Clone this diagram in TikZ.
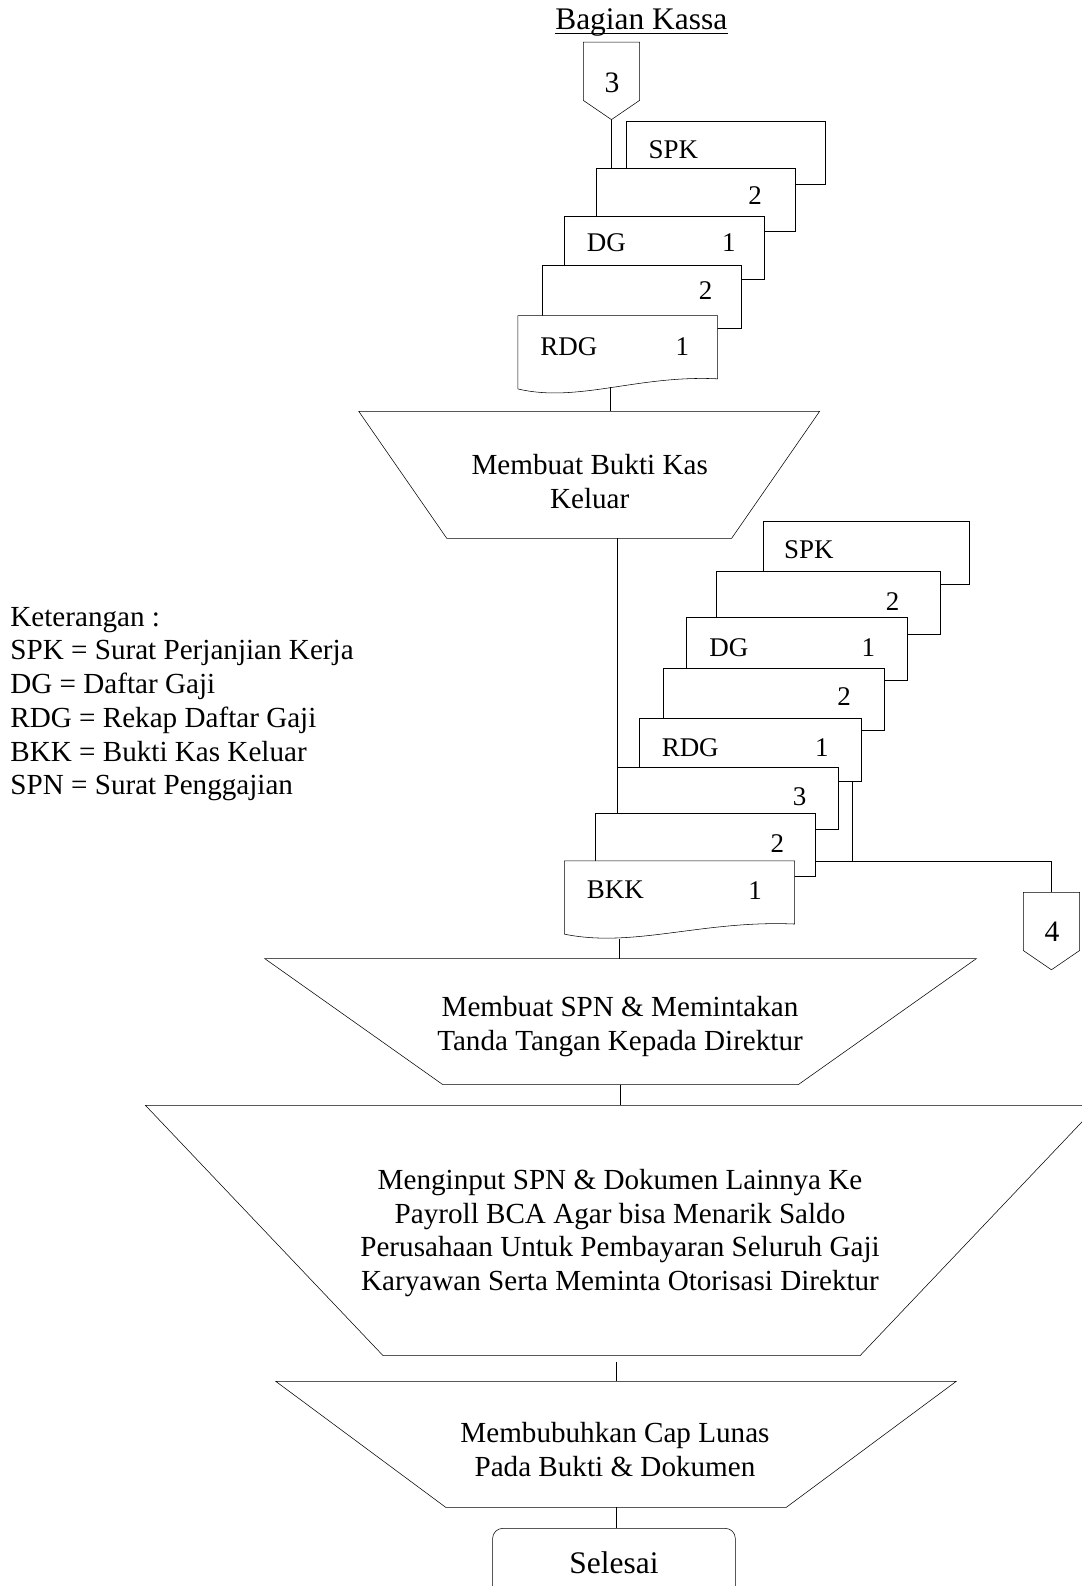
\documentclass[tikz,border=0pt]{standalone}
\usepackage{fontspec}
\setmainfont{Liberation Serif}
\usetikzlibrary{calc}

\tikzset{
  teks/.style={font=\fontsize{21.6}{25}\selectfont, align=center, inner sep=0pt},
  lbl/.style={font=\fontsize{20}{24}\selectfont, inner sep=0pt},
  dok/.style={draw, fill=white, anchor=north west, minimum width=#1*0.75pt, minimum height=46.5pt, inner sep=0pt},
  dokw/.style={anchor=north west, minimum width=#1*0.75pt, minimum height=46.5pt, inner sep=0pt},
  proses/.style args={#1/#2}{minimum width=#1*0.75pt, minimum height=#2*0.75pt, inner sep=0pt},
  offp/.style={minimum width=41.25pt, minimum height=42.75pt, inner sep=0pt}
}
% trapesium proses manual
\newcommand\trapes[2]{\draw (#1.north west) -- (#1.north east) -- ([shift={(-#2,0)}]#1.south east) -- ([shift={(#2,0)}]#1.south west) -- cycle;}
% penghubung halaman
\newcommand\offpage[1]{\draw (#1.north west) -- (#1.north east) -- (#1.south east) -- ([shift={(0,19)}]#1.south) -- (#1.south west) -- cycle;}
% dokumen dengan bawah bergelombang
\newcommand\gelombang[1]{\draw[fill=white] (#1.north west) -- (#1.north east) -- (#1.south east) .. controls ($(#1.south west)!0.6!(#1.south east)+(0,-4)$) and ($(#1.south west)!0.3!(#1.south east)+(0,24)$) .. ([shift={(0,10)}]#1.south west) -- cycle;}

\begin{document}
\begin{tikzpicture}[x=0.75pt,y=-0.75pt]
	\useasboundingbox (0,0) rectangle (1069,1568);

	% Judul
	\node[teks, font=\fontsize{23.3}{28}\selectfont, anchor=base] (judul) at (634,29) {Bagian Kassa};
	\draw ([shift={(0,4)}]judul.base west) -- ([shift={(0,4)}]judul.base east);

	% Penghubung 3
	\node[offp] (c3) at (604.5,70.5) {};
	\offpage{c3}
	\node[lbl, font=\fontsize{22}{26}\selectfont] (n3) at (605,82) {3};
	\coordinate (c3tip) at ([shift={(0,19)}]c3.south);

	% Tumpukan dokumen pertama
	\node[dok=197] (spk1) at (619,120) {};
	\node[lbl, anchor=west] (tspk1) at ([shift={(22,28)}]spk1.north west) {SPK};
	\node[dok=197] (dua1) at (589,166) {};
	\node[lbl] (tdua1) at ([shift={(-40,27)}]dua1.north east) {2};
	\node[dok=197] (dg1) at (558,214) {};
	\node[lbl, anchor=west] (tdg1) at ([shift={(22,26)}]dg1.north west) {DG};
	\node[lbl] (sdg1) at ([shift={(-35,26)}]dg1.north east) {1};
	\node[dok=197] (dua2) at (536,262) {};
	\node[lbl] (tdua2) at ([shift={(-36,25)}]dua2.north east) {2};
	\node[dokw=197] (rdg1) at (512,312) {};
	\gelombang{rdg1}
	\node[lbl, anchor=west] (trdg1) at ([shift={(22,31)}]rdg1.north west) {RDG};
	\node[lbl] (srdg1) at ([shift={(-35,31)}]rdg1.north east) {1};

	\draw (c3tip) -- (c3tip |- dua1.north);

	% Proses 1
	\node[proses=455/125] (p1) at (582.5,469.5) {};
	\trapes{p1}{87}
	\node[teks] (t1) at (583,476) {Membuat Bukti Kas\\Keluar};
	\coordinate (w1) at ([shift={(91,71)}]rdg1.north west);
	\draw (w1) -- (w1 |- p1.north);

	% Keterangan
	\node[teks, align=left, anchor=north west] (ket) at (10,600) {Keterangan :\\SPK = Surat Perjanjian Kerja\\DG = Daftar Gaji\\RDG = Rekap Daftar Gaji\\BKK = Bukti Kas Keluar\\SPN = Surat Penggajian};

	% Tumpukan dokumen kedua
	\node[dok=204] (b1) at (754,515) {};
	\node[lbl, anchor=west] (tb1) at ([shift={(21,28)}]b1.north west) {SPK};
	\node[dok=221] (b2) at (708,565) {};
	\node[lbl] (tb2) at ([shift={(-47,30)}]b2.north east) {2};
	\node[dok=219] (b3) at (678,610) {};
	\node[lbl, anchor=west] (tb3) at ([shift={(23,30)}]b3.north west) {DG};
	\node[lbl] (sb3) at ([shift={(-39,30)}]b3.north east) {1};
	\node[dok=219] (b4) at (655,660) {};
	\node[lbl] (tb4) at ([shift={(-40,29)}]b4.north east) {2};
	\node[dok=219] (b5) at (632,710) {};
	\node[lbl, anchor=west] (tb5) at ([shift={(22,29)}]b5.north west) {RDG};
	\node[lbl] (sb5) at ([shift={(-39,29)}]b5.north east) {1};
	\node[dok=218] (b6) at (610,758) {};
	\node[lbl] (tb6) at ([shift={(-38,30)}]b6.north east) {3};
	\node[dok=218] (b7) at (588,804) {};
	\node[lbl] (tb7) at ([shift={(-38,30)}]b7.north east) {2};
	\node[dokw=227] (b8) at (558,851) {};
	\gelombang{b8}
	\node[lbl, anchor=west] (tb8) at ([shift={(22,29)}]b8.north west) {BKK};
	\node[lbl] (sb8) at ([shift={(-39,29)}]b8.north east) {1};

	\draw (b6.north west |- p1.south) -- (b6.north west);

	% Penghubung 4
	\node[offp] (c4) at (1039.5,911) {};
	\offpage{c4}
	\node[lbl, font=\fontsize{22}{26}\selectfont] (n4) at (1040,921) {4};
	\coordinate (ja) at ([shift={(-9,0)}]b5.south east);
	\coordinate (jn) at (ja |- b8.north);
	\draw (ja) -- (jn);
	\draw (b7.east |- jn) -- (c4.north |- jn) -- (c4.north);

	% Proses 2
	\node[proses=703/124] (p2) at (613.5,1010) {};
	\trapes{p2}{176}
	\node[teks] (t2) at (613,1015) {Membuat SPN \& Memintakan\\Tanda Tangan Kepada Direktur};
	\coordinate (w2) at ([shift={(54,77)}]b8.north west);
	\draw (w2) -- (w2 |- p2.north);

	% Proses 3
	\node[proses=941/247] (p3) at (614.5,1216.5) {};
	\trapes{p3}{235}
	\node[teks] (t3) at (613,1219) {Menginput SPN \& Dokumen Lainnya Ke\\Payroll BCA Agar bisa Menarik Saldo\\Perusahaan Untuk Pembayaran Seluruh Gaji\\Karyawan Serta Meminta Otorisasi Direktur};
	\draw (p2.south) -- (p2.south |- p3.north);

	% Proses 4
	\node[proses=672/124] (p4) at (609,1428) {};
	\trapes{p4}{168}
	\node[teks] (t4) at (608,1433) {Membubuhkan Cap Lunas\\Pada Bukti \& Dokumen};
	\draw[shorten <=4.5pt] (p4.north |- p3.south) -- (p4.north);

	% Selesai
	\node[draw, rounded corners=7.5pt, minimum width=180pt, minimum height=51pt, font=\fontsize{23.3}{28}\selectfont] (selesai) at (607,1545) {Selesai};
	\draw (p4.south) -- (p4.south |- selesai.north);

\end{tikzpicture}
\end{document}
